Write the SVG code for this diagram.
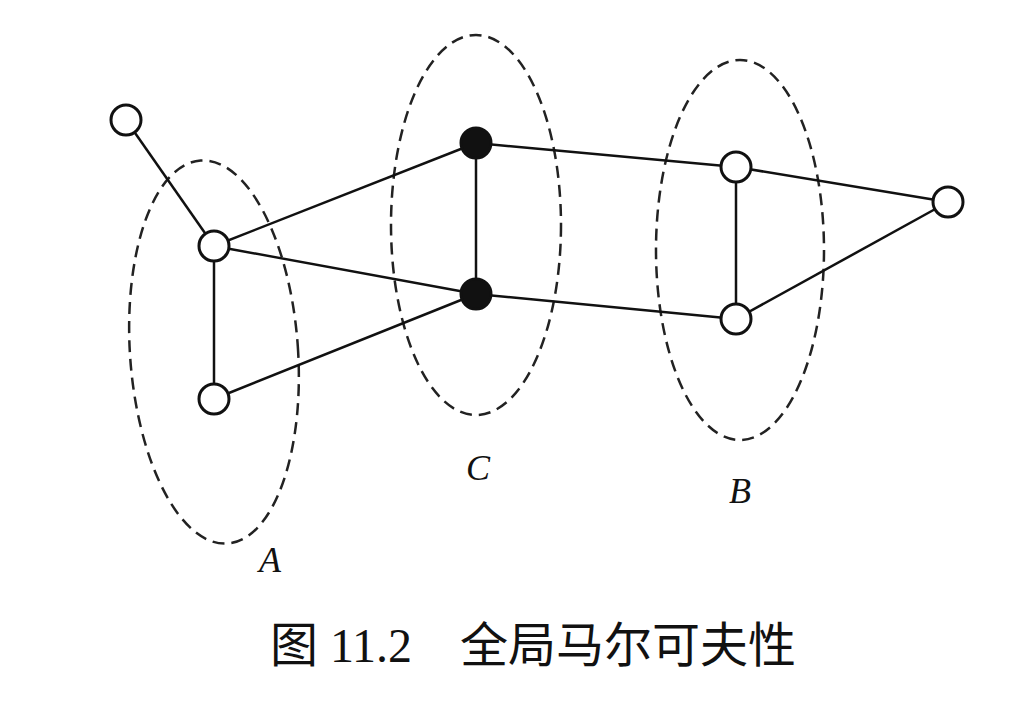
<svg xmlns="http://www.w3.org/2000/svg" width="1028" height="712" viewBox="0 0 1028 712">
<style>
.e{fill:none;stroke:#222;stroke-width:2.5;stroke-dasharray:12 7}
.n{fill:#fff;stroke:#111;stroke-width:3}
.f{fill:#111;stroke:#111;stroke-width:3}
.l{font-family:"Liberation Serif",serif;font-style:italic;font-size:36px;fill:#111}
line{stroke:#111;stroke-width:2.5}
</style>
<rect width="1028" height="712" fill="#fff"/>
<g id="groups">
<ellipse class="e" cx="214" cy="352" rx="84" ry="192" transform="rotate(-4 214 352)"/>
<ellipse class="e" cx="476" cy="225" rx="85" ry="190"/>
<ellipse class="e" cx="740" cy="250" rx="84" ry="190"/>
</g>
<g id="connectors">
<line x1="126" y1="120" x2="214" y2="246"/>
<line x1="214" y1="246" x2="214" y2="399"/>
<line x1="214" y1="246" x2="476" y2="143"/>
<line x1="214" y1="246" x2="476" y2="294"/>
<line x1="214" y1="399" x2="476" y2="294"/>
<line x1="476" y1="143" x2="476" y2="294"/>
<line x1="476" y1="143" x2="736" y2="167"/>
<line x1="476" y1="294" x2="736" y2="319"/>
<line x1="736" y1="167" x2="736" y2="319"/>
<line x1="736" y1="167" x2="948" y2="202"/>
<line x1="736" y1="319" x2="948" y2="202"/>
</g>
<g id="n1"><circle class="n" cx="126" cy="120" r="15"/></g>
<g id="a1"><circle class="n" cx="214" cy="246" r="15"/></g>
<g id="a2"><circle class="n" cx="214" cy="399" r="15"/></g>
<g id="c1"><circle class="f" cx="476" cy="143" r="15"/></g>
<g id="c2"><circle class="f" cx="476" cy="294" r="15"/></g>
<g id="b1"><circle class="n" cx="736" cy="167" r="15"/></g>
<g id="b2"><circle class="n" cx="736" cy="319" r="15"/></g>
<g id="n2"><circle class="n" cx="948" cy="202" r="15"/></g>
<g id="labels">
<text class="l" x="270" y="572" text-anchor="middle">A</text>
<text class="l" x="478" y="480" text-anchor="middle">C</text>
<text class="l" x="740" y="503" text-anchor="middle">B</text>
<text x="533" y="662" text-anchor="middle" font-family="Liberation Serif,Noto Sans CJK SC,serif" font-size="48" fill="#111" xml:space="preserve">图 11.2　全局马尔可夫性</text>
</g>
</svg>
